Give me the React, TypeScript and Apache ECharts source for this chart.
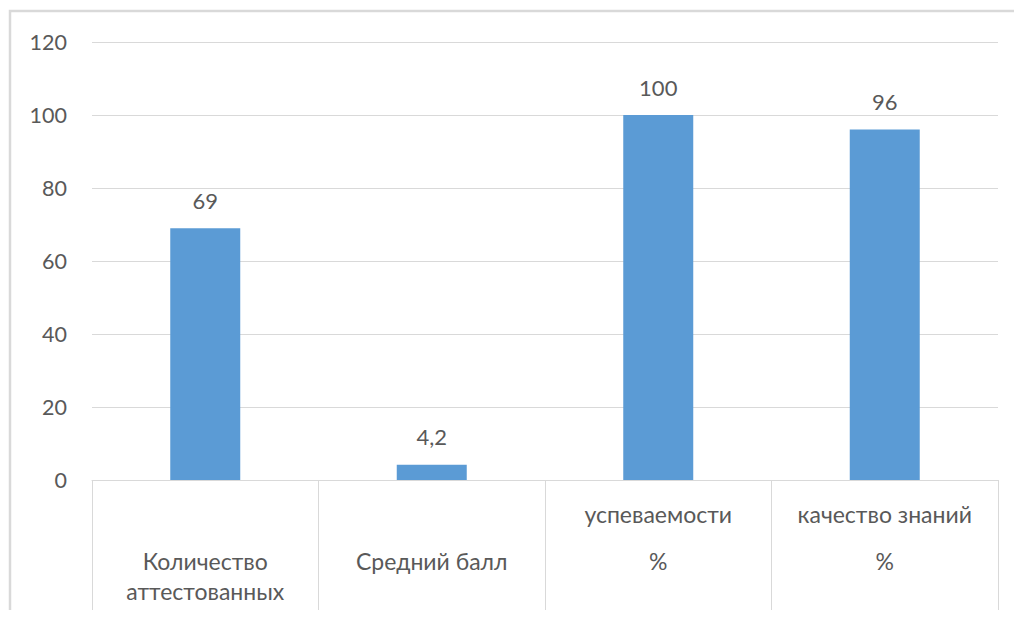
import React, { useEffect, useRef } from "react";
import * as echarts from "echarts";

const categories = ["Количество аттестованных", "Средний балл", "успеваемости %", "качество знаний %"];
const values = [69, 4.2, 100, 96];
const labelLines: string[][] = [
  ["", "Количество", "аттестованных"],
  ["", "Средний балл"],
  ["успеваемости", "%"],
  ["качество знаний", "%"],
];
const yTicks = { min: 0, max: 120, interval: 20 };

const FONT = "Lato";
const TEXT = "#595959";
const LINE = "#d9d9d9";

export default function App() {
  const ref = useRef<HTMLDivElement>(null);
  useEffect(() => {
    document.body.style.margin = "0";
    if (!ref.current) return;
    const chart = echarts.init(ref.current, null, { renderer: "svg" });
    const keys = ["l1", "l2", "l3"];
    chart.setOption({
      animation: false,
      backgroundColor: "#fff",
      textStyle: { fontFamily: FONT },
      grid: { left: 92, right: 16, top: 42, bottom: 139 },
      graphic: [
        {
          type: "polyline",
          shape: { points: [[10, 610], [10, 11], [1014, 11]] },
          style: { stroke: LINE, lineWidth: 2.5, fill: "none" },
          silent: true,
        },
      ],
      xAxis: {
        type: "category",
        data: categories,
        axisLine: { lineStyle: { color: LINE, width: 1 } },
        axisTick: { show: true, length: 130, interval: 0, lineStyle: { color: LINE } },
        axisLabel: {
          interval: 0,
          margin: 10,
          formatter: (v: string) => {
            const i = categories.indexOf(v);
            const lines = labelLines[i] || [v];
            return lines.map((t, k) => `{${keys[k]}|${t === "" ? " " : t}}`).join("\n");
          },
          rich: {
            l1: { lineHeight: 47, fontSize: 23, color: TEXT, fontFamily: FONT },
            l2: { lineHeight: 47, fontSize: 23, color: TEXT, fontFamily: FONT },
            l3: { lineHeight: 13, fontSize: 23, color: TEXT, fontFamily: FONT },
          },
        },
      },
      yAxis: {
        type: "value",
        min: yTicks.min,
        max: yTicks.max,
        interval: yTicks.interval,
        axisLine: { show: false },
        axisTick: { show: false },
        axisLabel: { color: TEXT, fontSize: 21.5, margin: 25, fontFamily: FONT },
        splitLine: { lineStyle: { color: LINE, width: 1 } },
      },
      series: [
        {
          type: "bar",
          data: values,
          barWidth: 70,
          itemStyle: { color: "#5b9bd5" },
          label: {
            show: true,
            position: "top",
            distance: 17,
            color: TEXT,
            fontSize: 22,
            fontFamily: FONT,
            formatter: (p: any) => String(p.value).replace(".", ","),
          },
        },
      ],
    });
    return () => chart.dispose();
  }, []);
  return <div ref={ref} style={{ width: 1014, height: 619 }} />;
}
